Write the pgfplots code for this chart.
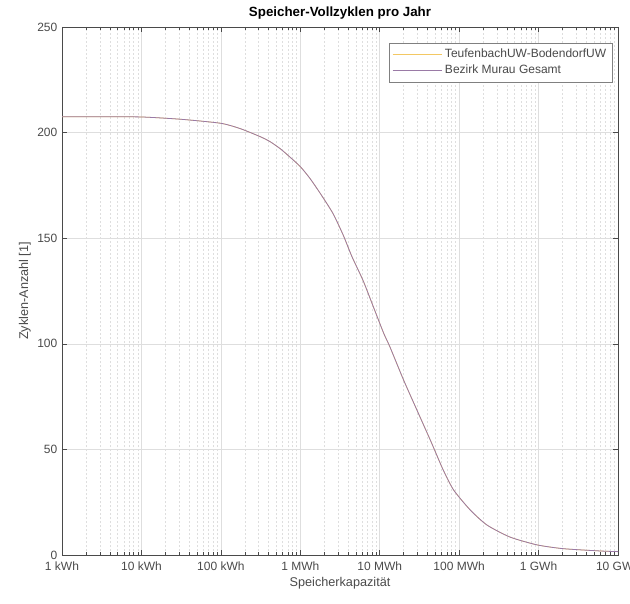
\documentclass[border=0pt]{standalone}
\usepackage{pgfplots}
\pgfplotsset{compat=1.18}
\usepackage{fontspec}
\setmainfont{Liberation Sans}

\definecolor{mlyellow}{HTML}{EDB120}
\definecolor{mlpurple}{HTML}{9A7AA6}
\definecolor{gridgrey}{HTML}{DEDEDE}
\definecolor{axgrey}{HTML}{4A4A4A}

\pgfplotstableread{
x      y
1e3    207.5
3.162e3 207.5
1e4    207.4
3.162e4 206.3
1e5    204.4
1.778e5 201.8
3.162e5 198.0
4.169e5 195.7
5.623e5 192.3
7.413e5 188.4
1e6    183.9
1.318e6 178.4
1.778e6 171.3
2.570e6 161.8
3.467e6 151.5
4.467e6 141.3
6.166e6 130.0
8.318e6 117.5
1.122e7 105.0
1.349e7 98.4
1.995e7 82.9
2.951e7 68.5
4.266e7 55.0
5.012e7 48.9
6.310e7 40.2
8.511e7 30.8
1.380e8 21.3
2.239e8 14.2
4.365e8 8.5
9.550e8 4.8
2.042e9 3.0
6.026e9 1.9
1e10   1.6
}\murau

\begin{document}
\begin{tikzpicture}
\begin{axis}[
  name=ax,
  scale only axis,
  width=417pt, height=396pt,
  xmode=log,
  xmin=1e3, xmax=1e10,
  ymin=0, ymax=250,
  xtick={1e3,1e4,1e5,1e6,1e7,1e8,1e9,1e10},
  xticklabels={1 kWh,10 kWh,100 kWh,1 MWh,10 MWh,100 MWh,1 GWh,10 GWh},
  minor xtick={2e3,3e3,4e3,5e3,6e3,7e3,8e3,9e3,
    2e4,3e4,4e4,5e4,6e4,7e4,8e4,9e4,
    2e5,3e5,4e5,5e5,6e5,7e5,8e5,9e5,
    2e6,3e6,4e6,5e6,6e6,7e6,8e6,9e6,
    2e7,3e7,4e7,5e7,6e7,7e7,8e7,9e7,
    2e8,3e8,4e8,5e8,6e8,7e8,8e8,9e8,
    2e9,3e9,4e9,5e9,6e9,7e9,8e9,9e9},
  ytick={0,50,100,150,200,250},
  /pgf/number format/assume math mode=true,
  tick label style={font=\fontsize{9}{10}\selectfont, text=axgrey},
  xticklabel style={yshift=-1.5pt},
  label style={font=\fontsize{9.5}{11}\selectfont, text=axgrey},
  title style={font=\fontsize{10}{12}\selectfont\bfseries, yshift=-4pt},
  title={Speicher-Vollzyklen pro Jahr},
  xlabel={Speicherkapazität},
  ylabel={Zyklen-Anzahl [1]},
  xlabel style={yshift=2pt},
  ylabel style={yshift=-2pt},
  axis line style={axgrey, line width=0.4pt},
  tick style={axgrey, line width=0.4pt},
  tick align=inside,
  major tick length=4pt,
  minor tick length=2.5pt,
  grid=both,
  major grid style={gridgrey, line width=0.4pt},
  minor x grid style={gridgrey, dash pattern=on 1.5pt off 1.5pt, line width=0.4pt},
  legend style={at={(0.99,0.97)}, anchor=north east, font=\fontsize{9}{10.5}\selectfont,
    draw=axgrey!70, line width=0.4pt, inner sep=2.5pt,
    nodes={text=axgrey}},
  legend cell align=left,
  legend image code/.code={\draw[#1] (0cm,0cm) -- (1.3cm,0cm);},
]
\addplot[mlyellow!70, line width=0.5pt, smooth, tension=0.4] table[x=x,y=y] {\murau};
\addlegendentry{TeufenbachUW-BodendorfUW}
\addplot[mlpurple, line width=0.6pt, smooth, tension=0.4] table[x=x,y=y] {\murau};
\addlegendentry{Bezirk Murau Gesamt}
\end{axis}
\pgfresetboundingbox
\path[use as bounding box] ([shift={(-46.5pt,-36pt)}]ax.south west) rectangle ([shift={(426pt,416.25pt)}]ax.south west);
\end{tikzpicture}
\end{document}
